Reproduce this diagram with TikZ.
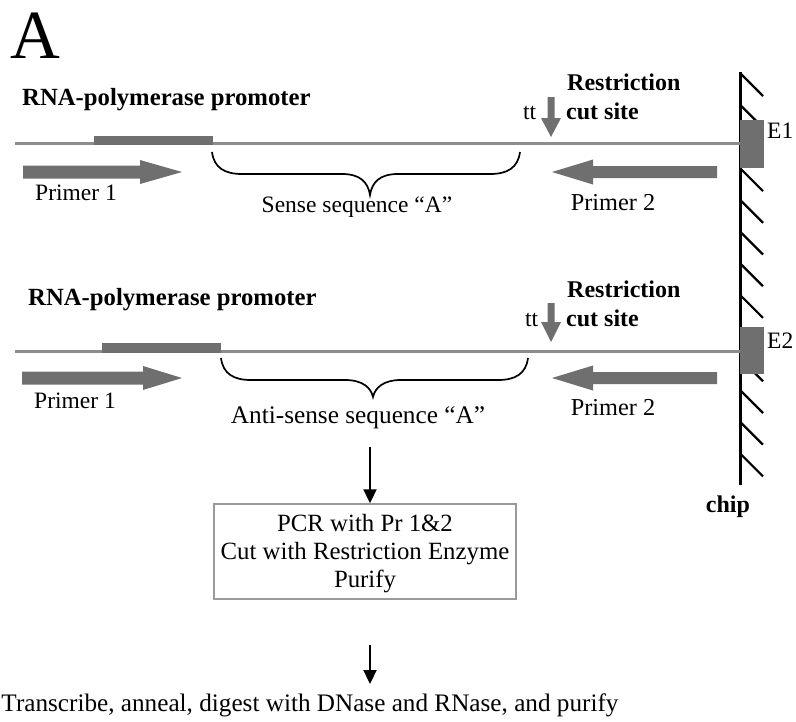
\documentclass[tikz,border=0pt]{standalone}
\usepackage{fontspec}
\setmainfont{Liberation Serif}
\usetikzlibrary{arrows.meta}
\definecolor{arrgray}{HTML}{6F6F6F}
\definecolor{dnagray}{HTML}{8C8C8C}
\definecolor{boxgray}{HTML}{9A9A9A}
\begin{document}
\begin{tikzpicture}[x=1pt,y=-1pt,
  txt/.style={inner sep=0pt, font=\fontsize{23.5}{28}\selectfont},
  btxt/.style={inner sep=0pt, font=\fontsize{24}{28}\selectfont\bfseries},
  dna/.style={draw=dnagray, line width=3pt},
  grayfill/.style={fill=arrgray},
  bracestyle/.style={draw=black, line width=1.7pt},
  flow/.style={draw=black, line width=2.2pt, -{Triangle[length=14pt,width=13pt]}},
  hatch/.style={line width=2.2pt},
  stepbox/.style={draw=boxgray, line width=1.5pt, minimum width=302pt, minimum height=95pt, inner sep=0pt},
  boxtext/.style={align=center, inner sep=0pt, font=\fontsize{24.8}{28}\selectfont}
]
\useasboundingbox (0,0) rectangle (796,721);

% title
\node[anchor=base west, inner sep=0pt, font=\fontsize{69}{70}\selectfont] (title) at (10,58) {A};

% chip with hatching
\foreach \k in {0,...,12} \draw[hatch] (740,{73+31.7*\k}) -- ++(23,23);
\draw[line width=3pt] (740,72) -- (740,485);
\node[btxt, anchor=base] (chip) at (728,512) {chip};

% ---------- section 1 ----------
\node[btxt, anchor=base west, font=\fontsize{24.7}{28}\selectfont\bfseries] (prom1) at (22,105) {RNA-polymerase promoter};
\draw[dna] (15,143) -- (740,143);
\fill[grayfill] (94,136) rectangle (213,144.5);
\fill[grayfill] (740,120) rectangle (764,168);
\node[txt, anchor=base west] (e1) at (767,138) {E1};
% primer 1
\fill[grayfill] (23,165.5) -- (140,165.5) -- (140,160) -- (182,172) -- (140,184) -- (140,178.5) -- (23,178.5) -- cycle;
\node[txt, anchor=base west] (p1a) at (35,200) {Primer 1};
% primer 2
\fill[grayfill] (717,166) -- (593,166) -- (593,159.5) -- (552,172) -- (593,184.5) -- (593,178) -- (717,178) -- cycle;
\node[txt, anchor=base, font=\fontsize{24.3}{28}\selectfont] (p2a) at (613,210) {Primer 2};
% restriction site
\fill[grayfill] (547.5,97) -- (554.5,97) -- (554.5,118) -- (561,118) -- (551,137) -- (541,118) -- (547.5,118) -- cycle;
\node[btxt, anchor=base west] (res1) at (567,90) {Restriction};
\node[btxt, anchor=base west] (cut1) at (566,119) {cut site};
\node[txt, anchor=base west] (tt1) at (523,119) {tt};
% brace
\draw[bracestyle] (212,152) .. controls (214,168) and (225,174) .. (242,174) -- (342,174)
  .. controls (360,174) and (368,182) .. (370,195)
  .. controls (372,182) and (380,174) .. (398,174) -- (490,174)
  .. controls (507,174) and (518,168) .. (520,152);
\node[txt, anchor=base] (sense) at (357,212) {Sense sequence “A”};

% ---------- section 2 ----------
\node[btxt, anchor=base west, font=\fontsize{24.7}{28}\selectfont\bfseries] (prom2) at (28,305) {RNA-polymerase promoter};
\draw[dna] (15,351) -- (740,351);
\fill[grayfill] (102,343) rectangle (221,352.5);
\fill[grayfill] (740,327) rectangle (764,374);
\node[txt, anchor=base west] (e2) at (767,348) {E2};
% primer 1
\fill[grayfill] (22,371.5) -- (143,371.5) -- (143,366) -- (182,378) -- (143,390) -- (143,384.5) -- (22,384.5) -- cycle;
\node[txt, anchor=base west] (p1b) at (34,408) {Primer 1};
% primer 2
\fill[grayfill] (717,372) -- (593,372) -- (593,365.5) -- (552,378) -- (593,390.5) -- (593,384) -- (717,384) -- cycle;
\node[txt, anchor=base, font=\fontsize{24.3}{28}\selectfont] (p2b) at (613,415) {Primer 2};
% restriction site
\fill[grayfill] (547.5,303) -- (554.5,303) -- (554.5,322) -- (561,322) -- (551,342) -- (541,322) -- (547.5,322) -- cycle;
\node[btxt, anchor=base west] (res2) at (567,297) {Restriction};
\node[btxt, anchor=base west] (cut2) at (566,326) {cut site};
\node[txt, anchor=base west] (tt2) at (525,326) {tt};
% brace
\draw[bracestyle] (221,358) .. controls (223,374) and (234,380) .. (251,380) -- (345,380)
  .. controls (363,380) and (371,388) .. (373,397)
  .. controls (375,388) and (383,380) .. (401,380) -- (498,380)
  .. controls (515,380) and (526,374) .. (528,358);
\node[txt, anchor=base, font=\fontsize{25.3}{28}\selectfont] (anti) at (358,423) {Anti-sense sequence “A”};

% ---------- flow ----------
\node[stepbox] (pcr) at (365,551.5) {};
\node[boxtext] (pcrtxt) at (365,554) {PCR with Pr 1\&2\\Cut with Restriction Enzyme\\Purify};
\coordinate (a1s) at (370,447);
\draw[flow] (a1s) -- (a1s |- pcr.north);
\node[txt, anchor=base, font=\fontsize{25.2}{28}\selectfont] (final) at (310,711) {Transcribe, anneal, digest with DNase and RNase, and purify};
\coordinate (a2s) at (370,645);
\coordinate (a2e) at (370,684);
\draw[flow] (a2s) -- (a2e);
\end{tikzpicture}
\end{document}
